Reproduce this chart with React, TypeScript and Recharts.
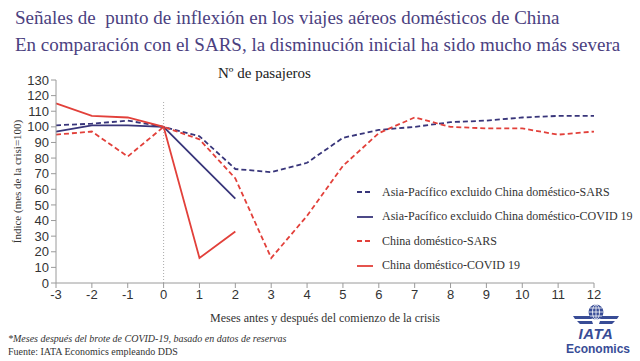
import { LineChart, Line, XAxis, YAxis, Legend, ReferenceLine, Label } from 'recharts';

const months = [-3, -2, -1, 0, 1, 2, 3, 4, 5, 6, 7, 8, 9, 10, 11, 12];
const asiaSars = [101, 102, 104, 100, 94, 73, 71, 77, 93, 98, 100, 103, 104, 106, 107, 107];
const asiaCovid = [97, 101, 101, 100, 77, 54];
const chinaSars = [95, 97, 81, 100, 92, 67, 16, 43, 75, 96, 106, 100, 99, 99, 95, 97];
const chinaCovid = [115, 107, 106, 100, 16, 33];
const yTicks = [0, 10, 20, 30, 40, 50, 60, 70, 80, 90, 100, 110, 120, 130];

const NAVY = '#38357a';
const RED = '#e2403a';
const AXIS = '#9a9a9a';
const LOGO = '#384c96';
const SERIF = '"Liberation Serif", "DejaVu Serif", serif';
const SANS = '"Liberation Sans", Arial, sans-serif';

const series = [
  { key: 'asiaSars', name: 'Asia-Pacífico excluido China doméstico-SARS', color: NAVY, dash: '5 3' },
  { key: 'asiaCovid', name: 'Asia-Pacífico excluido China doméstico-COVID 19', color: NAVY, dash: undefined },
  { key: 'chinaSars', name: 'China doméstico-SARS', color: RED, dash: '5 3' },
  { key: 'chinaCovid', name: 'China doméstico-COVID 19', color: RED, dash: undefined },
];

const data = months.map((m, i) => ({
  month: m,
  asiaSars: asiaSars[i],
  asiaCovid: asiaCovid[i] ?? null,
  chinaSars: chinaSars[i],
  chinaCovid: chinaCovid[i] ?? null,
}));

function LegendBox() {
  return (
    <div style={{ fontFamily: SERIF, fontSize: 12, color: '#333', whiteSpace: 'nowrap' }}>
      {series.map((s) => (
        <div key={s.key} style={{ display: 'flex', alignItems: 'center', height: 24.5 }}>
          <svg width={22} height={6} style={{ marginRight: 3 }}>
            <line x1={0} y1={3} x2={16} y2={3} stroke={s.color} strokeWidth={1.8} strokeDasharray={s.dash} />
          </svg>
          <span>{s.name}</span>
        </div>
      ))}
    </div>
  );
}

function Logo() {
  return (
    <div style={{ position: 'absolute', left: 566, top: 302, width: 60, textAlign: 'center', fontFamily: SANS, fontWeight: 'bold', color: LOGO }}>
      <svg width={50} height={24} style={{ display: 'block', margin: '0 auto' }}>
        <path d="M2 14 L20 14 L21 17 L4 17 Z M6 19 L21 19 L22 22 L9 22 Z" fill={LOGO} />
        <path d="M48 14 L30 14 L29 17 L46 17 Z M44 19 L29 19 L28 22 L41 22 Z" fill={LOGO} />
        <circle cx={25} cy={10} r={7.5} fill={LOGO} />
        <path d="M17.5 10 H32.5 M25 2.5 V17.5 M19 6 H31 M19 14 H31" stroke="#fff" strokeWidth={0.8} fill="none" />
        <ellipse cx={25} cy={10} rx={3.5} ry={7.5} stroke="#fff" strokeWidth={0.8} fill="none" />
      </svg>
      <div style={{ fontSize: 15, fontStyle: 'italic', lineHeight: '15px', letterSpacing: 0.5 }}>IATA</div>
      <div style={{ fontSize: 12, lineHeight: '17px' }}>Economics</div>
    </div>
  );
}

export default function App() {
  return (
    <div style={{ position: 'absolute', left: 0, top: 0, width: 640, height: 361, background: '#fff', overflow: 'hidden' }}>
      <div style={{ position: 'absolute', left: 15, top: 4, fontFamily: SERIF, fontSize: 19, color: '#4b417f', lineHeight: '27px' }}>
        <div>Señales de&nbsp; punto de inflexión en los viajes aéreos domésticos de China</div>
        <div>En comparación con el SARS, la disminución inicial ha sido mucho más severa</div>
      </div>
      <div style={{ position: 'absolute', left: 218, top: 65, fontFamily: SERIF, fontSize: 15, color: '#222' }}>
        Nº de pasajeros
      </div>
      <LineChart width={640} height={361} data={data} margin={{ top: 80, right: 46, bottom: 48, left: 0 }}>
        <XAxis
          dataKey="month"
          type="number"
          domain={[-3, 12]}
          ticks={months}
          interval={0}
          stroke={AXIS}
          tickLine={{ stroke: AXIS }}
          tickSize={5}
          tick={{ fill: '#333', fontSize: 13, fontFamily: SANS }}
        >
          <Label value="Meses antes y después del comienzo de la crisis" position="insideBottom" offset={-9}
            style={{ fontFamily: SERIF, fontSize: 12, fill: '#333' }} />
        </XAxis>
        <YAxis
          domain={[0, 130]}
          ticks={yTicks}
          interval={0}
          width={56}
          stroke={AXIS}
          tickSize={5}
          tick={{ fill: '#333', fontSize: 13, fontFamily: SANS }}
        >
          <Label value="Índice (mes de la crisi=100)" angle={-90} position="insideLeft" offset={17}
            style={{ fontFamily: SERIF, fontSize: 11, fill: '#333', textAnchor: 'middle' }} />
        </YAxis>
        <ReferenceLine segment={[{ x: 0, y: 0 }, { x: 0, y: 117 }]} stroke="#aaa" strokeDasharray="1 2" />
        {series.map((s) => (
          <Line
            key={s.key}
            dataKey={s.key}
            name={s.name}
            stroke={s.color}
            strokeWidth={1.8}
            strokeDasharray={s.dash}
            dot={false}
            type="linear"
            isAnimationActive={false}
          />
        ))}
        <Legend content={LegendBox} layout="vertical" align="center" verticalAlign="middle"
          wrapperStyle={{ left: 357, top: 180, width: 280 }} />
      </LineChart>
      <div style={{ position: 'absolute', left: 8, top: 332, fontFamily: SERIF, fontSize: 10, color: '#333', lineHeight: '13px' }}>
        <div style={{ fontStyle: 'italic' }}>*Meses después del brote de COVID-19, basado en datos de reservas</div>
        <div>Fuente: IATA Economics empleando DDS</div>
      </div>
      <Logo />
    </div>
  );
}
